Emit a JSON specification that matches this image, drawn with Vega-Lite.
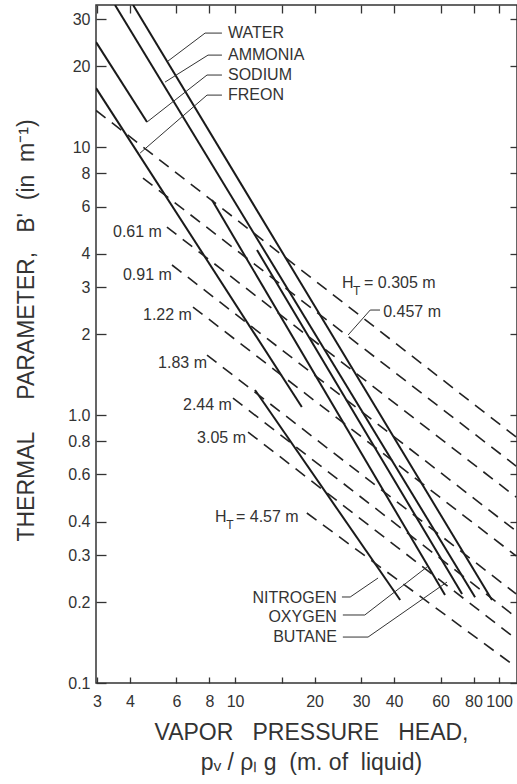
{
  "$schema": "https://vega.github.io/schema/vega-lite/v6.json",
  "width": 421,
  "height": 678,
  "autosize": {"type": "none"},
  "padding": {"left": 96, "top": 5, "right": 0, "bottom": 101},
  "background": "white",
  "config": {
    "view": {"stroke": "#333", "strokeWidth": 1.5},
    "font": "Liberation Sans",
    "axis": {
      "grid": false, "domain": false,
      "labelFont": "Liberation Sans", "labelFontSize": 16, "labelColor": "#333",
      "tickColor": "#333", "tickWidth": 1.3,
      "titleFont": "Liberation Sans", "titleColor": "#333", "titleFontWeight": "normal",
      "labelFlush": false, "labelOverlap": false, "labelBound": false
    }
  },
  "datasets": {
    "fluids": [
      {"name": "WATER", "o": 1, "x": 4.11, "y": 33.9},
      {"name": "WATER", "o": 2, "x": 94.0, "y": 0.204},
      {"name": "AMMONIA", "o": 1, "x": 3.51, "y": 33.9},
      {"name": "AMMONIA", "o": 2, "x": 81.1, "y": 0.209},
      {"name": "SODIUM", "o": 1, "x": 2.975, "y": 24.65},
      {"name": "SODIUM", "o": 2, "x": 4.64, "y": 12.4},
      {"name": "FREON", "o": 1, "x": 2.975, "y": 16.6},
      {"name": "FREON", "o": 2, "x": 17.9, "y": 1.071},
      {"name": "NITROGEN", "o": 1, "x": 11.9, "y": 1.24},
      {"name": "NITROGEN", "o": 2, "x": 42.2, "y": 0.204},
      {"name": "OXYGEN", "o": 1, "x": 8.18, "y": 6.34},
      {"name": "OXYGEN", "o": 2, "x": 62.4, "y": 0.213},
      {"name": "BUTANE", "o": 1, "x": 12.11, "y": 4.128},
      {"name": "BUTANE", "o": 2, "x": 72.4, "y": 0.215}
    ],
    "heights": [
      {"ht": "0.305", "o": 1, "x": 2.975, "y": 13.7},
      {"ht": "0.305", "o": 2, "x": 116, "y": 0.828},
      {"ht": "0.457", "o": 1, "x": 4.48, "y": 7.66},
      {"ht": "0.457", "o": 2, "x": 116, "y": 0.645},
      {"ht": "0.61", "o": 1, "x": 5.52, "y": 5.03},
      {"ht": "0.61", "o": 2, "x": 116, "y": 0.494},
      {"ht": "0.91", "o": 1, "x": 5.77, "y": 3.63},
      {"ht": "0.91", "o": 2, "x": 116, "y": 0.369},
      {"ht": "1.22", "o": 1, "x": 6.93, "y": 2.53},
      {"ht": "1.22", "o": 2, "x": 116, "y": 0.298},
      {"ht": "1.83", "o": 1, "x": 7.83, "y": 1.674},
      {"ht": "1.83", "o": 2, "x": 116, "y": 0.215},
      {"ht": "2.44", "o": 1, "x": 9.82, "y": 1.157},
      {"ht": "2.44", "o": 2, "x": 116, "y": 0.176},
      {"ht": "3.05", "o": 1, "x": 11.2, "y": 0.864},
      {"ht": "3.05", "o": 2, "x": 116, "y": 0.146},
      {"ht": "4.57", "o": 1, "x": 18.7, "y": 0.431},
      {"ht": "4.57", "o": 2, "x": 116, "y": 0.1147}
    ],
    "leaders": [
      {"id": "WATER", "o": 1, "x": 8.92, "y": 26.63},
      {"id": "WATER", "o": 2, "x": 7.7, "y": 26.63},
      {"id": "WATER", "o": 3, "x": 5.57, "y": 20.94},
      {"id": "AMMONIA", "o": 1, "x": 8.92, "y": 22.04},
      {"id": "AMMONIA", "o": 2, "x": 7.9, "y": 22.04},
      {"id": "AMMONIA", "o": 3, "x": 5.43, "y": 17.48},
      {"id": "SODIUM", "o": 1, "x": 8.92, "y": 18.57},
      {"id": "SODIUM", "o": 2, "x": 7.83, "y": 18.57},
      {"id": "SODIUM", "o": 3, "x": 4.64, "y": 12.4},
      {"id": "FREON", "o": 1, "x": 8.92, "y": 15.63},
      {"id": "FREON", "o": 2, "x": 7.83, "y": 15.63},
      {"id": "FREON", "o": 3, "x": 4.37, "y": 9.5},
      {"id": "H457", "o": 1, "x": 35.4, "y": 2.465},
      {"id": "H457", "o": 2, "x": 32.5, "y": 2.465},
      {"id": "H457", "o": 3, "x": 26.8, "y": 1.989},
      {"id": "NITROGEN", "o": 1, "x": 25.4, "y": 0.2094},
      {"id": "NITROGEN", "o": 2, "x": 27.3, "y": 0.2094},
      {"id": "NITROGEN", "o": 3, "x": 34.8, "y": 0.2465},
      {"id": "OXYGEN", "o": 1, "x": 25.6, "y": 0.1794},
      {"id": "OXYGEN", "o": 2, "x": 31.0, "y": 0.1794},
      {"id": "OXYGEN", "o": 3, "x": 53.3, "y": 0.2709},
      {"id": "BUTANE", "o": 1, "x": 25.6, "y": 0.1484},
      {"id": "BUTANE", "o": 2, "x": 31.9, "y": 0.1484},
      {"id": "BUTANE", "o": 3, "x": 63.5, "y": 0.2381}
    ],
    "labelsLeft": [
      {"x": 9.4, "y": 26.63, "text": "WATER"},
      {"x": 9.4, "y": 22.04, "text": "AMMONIA"},
      {"x": 9.4, "y": 18.57, "text": "SODIUM"},
      {"x": 9.4, "y": 15.63, "text": "FREON"},
      {"x": 3.45, "y": 4.82, "text": "0.61 m"},
      {"x": 3.76, "y": 3.33, "text": "0.91 m"},
      {"x": 4.48, "y": 2.36, "text": "1.22 m"},
      {"x": 5.11, "y": 1.563, "text": "1.83 m"},
      {"x": 6.35, "y": 1.09, "text": "2.44 m"},
      {"x": 7.18, "y": 0.821, "text": "3.05 m"},
      {"x": 8.4, "y": 0.4164, "text": "H"},
      {"x": 10.08, "y": 0.4164, "text": "= 4.57 m"},
      {"x": 25.4, "y": 3.108, "text": "H"},
      {"x": 30.8, "y": 3.108, "text": "= 0.305 m"},
      {"x": 36.4, "y": 2.423, "text": "0.457 m"}
    ],
    "labelsRight": [
      {"x": 24.3, "y": 0.2076, "text": "NITROGEN"},
      {"x": 24.3, "y": 0.1763, "text": "OXYGEN"},
      {"x": 24.3, "y": 0.1484, "text": "BUTANE"}
    ],
    "subs": [
      {"x": 9.57, "y": 0.3887, "text": "T"},
      {"x": 28.9, "y": 2.902, "text": "T"}
    ]
  },
  "layer": [
    {
      "data": {"name": "fluids"},
      "mark": {"type": "line", "color": "#1a1a1a", "strokeWidth": 2, "clip": true},
      "encoding": {
        "x": {
          "field": "x", "type": "quantitative",
          "scale": {"type": "log", "domain": [2.974, 116.9], "nice": false, "zero": false},
          "axis": {
            "orient": "bottom",
            "values": [3, 4, 6, 8, 10, 15, 20, 30, 40, 60, 80, 100],
            "labelExpr": "datum.value == 15 ? '' : format(datum.value, 'd')",
            "tickSize": -6, "labelPadding": 16,
            "title": ["VAPOR\u00a0\u00a0\u00a0PRESSURE\u00a0\u00a0\u00a0HEAD,", "p\u1d65\u00a0/\u00a0\u03c1\u2097\u00a0g\u00a0\u00a0(m.\u00a0of\u00a0\u00a0liquid)"],
            "titleFontSize": 23, "titleX": 215, "titleY": 38,
            "titleAlign": "center", "titleBaseline": "top", "titleLineHeight": 30, "titleAngle": 0
          }
        },
        "y": {
          "field": "y", "type": "quantitative",
          "scale": {"type": "log", "domain": [0.1, 33.9], "nice": false, "zero": false},
          "axis": {
            "orient": "left",
            "values": [0.1, 0.2, 0.3, 0.4, 0.6, 0.8, 1, 2, 3, 4, 6, 8, 10, 20, 30],
            "labelExpr": "datum.value < 1 ? format(datum.value, '.1f') : (datum.value == 1 ? '1.0' : format(datum.value, 'd'))",
            "tickSize": -10, "labelPadding": 16,
            "title": "THERMAL\u00a0\u00a0\u00a0\u00a0\u00a0PARAMETER,\u00a0\u00a0\u00a0B'\u00a0\u00a0(in\u00a0\u00a0m\u207b\u00b9)",
            "titleFontSize": 23, "titleAngle": 270, "titleX": -70, "titleY": 325,
            "titleAlign": "center", "titleBaseline": "middle"
          }
        },
        "detail": {"field": "name"},
        "order": {"field": "o"}
      }
    },
    {
      "data": {"name": "heights"},
      "mark": {"type": "line", "color": "#222", "strokeWidth": 1.6, "strokeDash": [12, 8], "clip": true},
      "encoding": {
        "x": {"field": "x", "type": "quantitative", "scale": {"type": "log", "domain": [2.974, 116.9], "nice": false},
          "axis": {"orient": "top", "values": [3, 4, 6, 8, 10, 15, 20, 30, 40, 60, 80, 100], "labels": false, "tickSize": -8, "title": null}},
        "y": {"field": "y", "type": "quantitative", "scale": {"type": "log", "domain": [0.1, 33.9], "nice": false},
          "axis": {"orient": "right", "values": [0.1, 0.2, 0.3, 0.4, 0.6, 0.8, 1, 2, 3, 4, 6, 8, 10, 20, 30], "labels": false, "tickSize": -7, "title": null}},
        "detail": {"field": "ht"},
        "order": {"field": "o"}
      }
    },
    {
      "data": {"name": "leaders"},
      "mark": {"type": "line", "color": "#333", "strokeWidth": 1},
      "encoding": {
        "x": {"field": "x", "type": "quantitative", "axis": null},
        "y": {"field": "y", "type": "quantitative", "axis": null},
        "detail": {"field": "id"},
        "order": {"field": "o"}
      }
    },
    {
      "data": {"name": "labelsLeft"},
      "mark": {"type": "text", "align": "left", "baseline": "middle", "fontSize": 16, "color": "#333", "font": "Liberation Sans"},
      "encoding": {
        "x": {"field": "x", "type": "quantitative", "axis": null},
        "y": {"field": "y", "type": "quantitative", "axis": null},
        "text": {"field": "text"}
      }
    },
    {
      "data": {"name": "labelsRight"},
      "mark": {"type": "text", "align": "right", "baseline": "middle", "fontSize": 16, "color": "#333", "font": "Liberation Sans"},
      "encoding": {
        "x": {"field": "x", "type": "quantitative", "axis": null},
        "y": {"field": "y", "type": "quantitative", "axis": null},
        "text": {"field": "text"}
      }
    },
    {
      "data": {"name": "subs"},
      "mark": {"type": "text", "align": "center", "baseline": "middle", "fontSize": 12, "color": "#333", "font": "Liberation Sans"},
      "encoding": {
        "x": {"field": "x", "type": "quantitative", "axis": null},
        "y": {"field": "y", "type": "quantitative", "axis": null},
        "text": {"field": "text"}
      }
    }
  ],
  "resolve": {"axis": {"x": "independent", "y": "independent"}}
}
